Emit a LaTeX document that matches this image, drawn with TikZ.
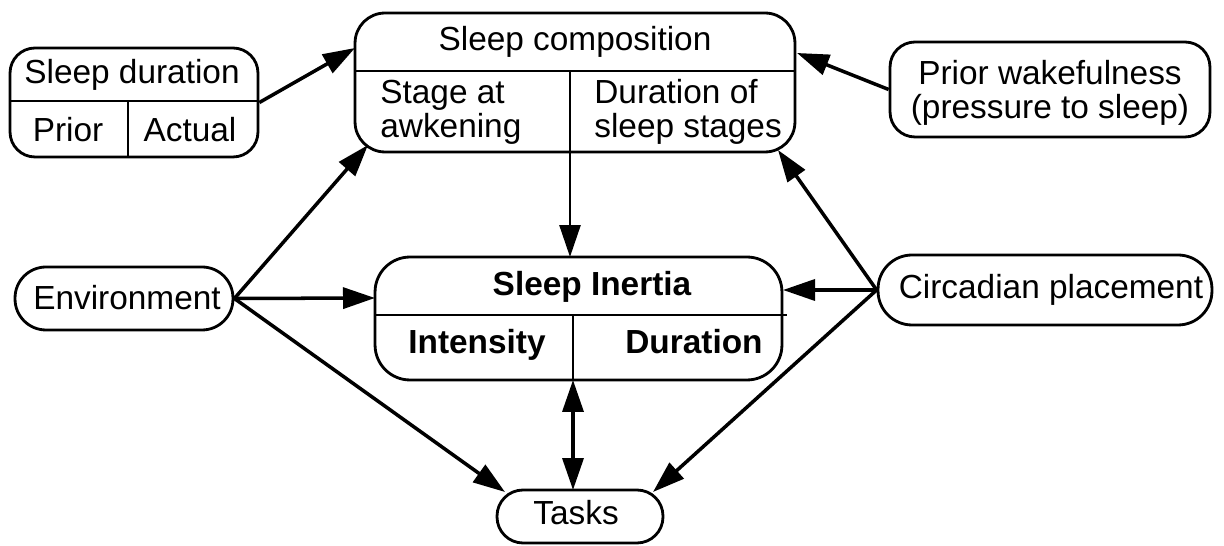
\documentclass[tikz,border=0pt]{standalone}
\usepackage{fontspec}
\setmainfont{Liberation Sans}
\usepackage{tikz}
\usetikzlibrary{arrows.meta}
\tikzset{
  box/.style={draw, line width=1.6pt, inner sep=0pt},
  lbl/.style={font=\fontsize{19}{19.5}\selectfont, inner sep=0pt},
  blbl/.style={font=\fontsize{19}{19.5}\selectfont\bfseries, inner sep=0pt, anchor=base},
  sep/.style={line width=1.3pt},
  link/.style={line width=2pt, -{Triangle[length=0.64cm,width=0.42cm]}},
}
\begin{document}
\begin{tikzpicture}[x=0.02cm, y=-0.02cm, line join=round]
\useasboundingbox (0,0) rectangle (1224,546);
% boxes
\node[box, rounded corners=0.5cm, minimum width=4.96cm, minimum height=2.18cm] (dur) at (134,102.5) {};
\node[box, rounded corners=0.6cm, minimum width=8.8cm, minimum height=2.78cm] (comp) at (575,82.5) {};
\node[box, rounded corners=0.5cm, minimum width=6.4cm, minimum height=1.9cm] (wake) at (1050,89.5) {};
\node[box, rounded corners=0.62cm, minimum width=4.36cm, minimum height=1.26cm] (env) at (124,298.5) {};
\node[box, rounded corners=0.7cm, minimum width=8.14cm, minimum height=2.46cm] (inert) at (578.5,318.5) {};
\node[box, rounded corners=0.68cm, minimum width=6.68cm, minimum height=1.4cm] (circ) at (1045,290) {};
\node[box, rounded corners=0.52cm, minimum width=3.32cm, minimum height=1.06cm] (tasks) at (580,516.5) {};
% dividers
\draw[sep] (10,101) -- (258,101);
\draw[sep] (128,101) -- (128,157);
\draw[sep] (355,71) -- (795,71);
\draw[sep] (570,71) -- (570,152);
\draw[sep] (375,315) -- (787,315);
\draw[sep] (573,315) -- (573,380);
% arrow ends
\coordinate (CW) at (355,48);
\coordinate (CE) at (797,53);
\coordinate (CS) at (570,152);
\coordinate (CSW) at (368,145);
\coordinate (CSE) at (778,150);
\coordinate (IN) at (570,257);
\coordinate (IW) at (375,298);
\coordinate (IE) at (783,290);
\coordinate (IS) at (573,380);
\coordinate (TN) at (573,490);
\coordinate (TW) at (505,492);
\coordinate (TE) at (653,492);
% connectors
\draw[link] (dur.east) -- (CW);
\draw[link] (wake.west) -- (CE);
\draw[link, line width=1.5pt] (CS) -- (IN);
\draw[link] (env.east) -- (CSW);
\draw[link] (env.east) -- (IW);
\draw[link] (env.east) -- (TW);
\draw[link] (circ.west) -- (IE);
\draw[link] (circ.west) -- (CSE);
\draw[link] (circ.west) -- (TE);
\draw[link, {Triangle[length=0.64cm,width=0.42cm]}-{Triangle[length=0.64cm,width=0.42cm]}] (IS) -- (TN);
% labels
\node[lbl] (tDur) at (132,75) {Sleep duration};
\node[lbl] (tPrior) at (68,130) {Prior};
\node[lbl] (tActual) at (190,130) {Actual};
\node[lbl] (tComp) at (575,42) {Sleep composition};
\node[lbl, anchor=west, align=left] (tStage) at (380,112) {Stage at\\awkening};
\node[lbl, anchor=west, align=left] (tStages) at (594,112) {Duration of\\sleep stages};
\node[lbl, align=center] (tWake) at (1050,93) {Prior wakefulness\\(pressure to sleep)};
\node[lbl] (tEnv) at (127,298) {Environment};
\node[blbl] (tInert) at (592,296) {Sleep Inertia};
\node[blbl] (tInt) at (477,354) {Intensity};
\node[blbl] (tDura) at (694,354) {Duration};
\node[lbl] (tCirc) at (1051,290) {Circadian placement};
\node[lbl] (tTasks) at (576,513) {Tasks};
\end{tikzpicture}
\end{document}
